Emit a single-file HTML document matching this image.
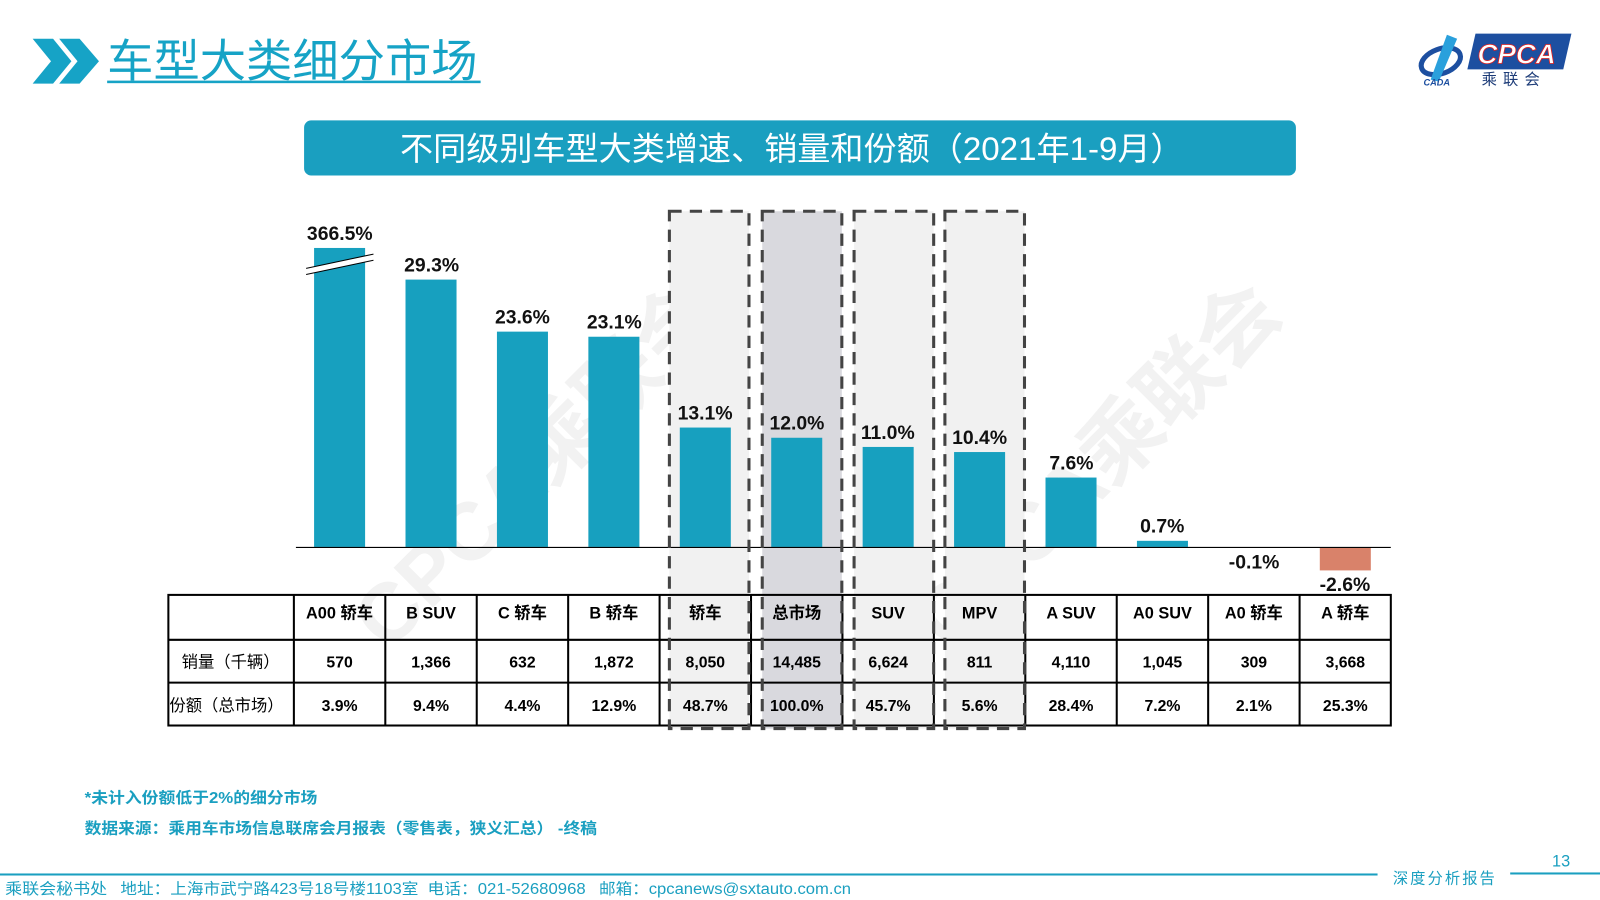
<!DOCTYPE html>
<html><head><meta charset="utf-8"><style>
html,body{margin:0;padding:0;background:#fff;overflow:hidden}
svg{display:block}
text{font-family:"Liberation Sans","Noto Sans CJK SC",sans-serif}
</style></head><body>
<svg width="1600" height="900" viewBox="0 0 1568 882" preserveAspectRatio="none" xmlns="http://www.w3.org/2000/svg">
<!-- watermarks -->
<g fill="#f2f2f2" font-size="80" font-weight="bold">
<text transform="translate(380,640) rotate(-45)">CPCA乘联会</text>
<text transform="translate(930,640) rotate(-45)">CPCA乘联会</text>
</g>
<!-- header -->
<polygon points="32,38 52,38 70,60 52,82 32,82 50,60" fill="#16a3c6"/>
<polygon points="58,38 78,38 97,60 78,82 58,82 76,60" fill="#16a3c6"/>
<text x="105" y="75" font-size="44" fill="#16a3c6" textLength="363" lengthAdjust="spacingAndGlyphs">车型大类细分市场</text>
<rect x="105" y="79" width="366" height="2.5" fill="#16a3c6"/>
<!-- logo -->
<ellipse cx="1412" cy="60" rx="20" ry="12" fill="none" stroke="#1d4fa0" stroke-width="5" transform="rotate(-20 1412 60)"/>
<path d="M1418 34 L1428 38 L1410 80 L1402 78 Z" fill="#2aa0dc"/>
<text x="1395" y="84" font-size="9" font-style="italic" font-weight="bold" fill="#1d4fa0">CADA</text>
<polygon points="1446,33 1540,33 1532,68 1438,68" fill="#1d4fa0"/>
<text x="1448" y="62" font-size="27" font-style="italic" font-weight="bold" fill="#fff" stroke="#d22" stroke-width="0.8">CPCA</text>
<text x="1452" y="83" font-size="15" fill="#1d3c78" letter-spacing="6">乘联会</text>
<!-- banner -->
<rect x="298" y="118" width="972" height="54" rx="7" fill="#1a9fc0"/>
<text x="392" y="157" font-size="32" fill="#fff" textLength="768" lengthAdjust="spacingAndGlyphs">不同级别车型大类增速、销量和份额（2021年1-9月）</text>
<!-- highlighted boxes -->
<rect x="656" y="207" width="78" height="507" fill="#f1f1f1"/>
<rect x="747" y="207" width="78" height="507" fill="#d9d9de"/>
<rect x="837" y="207" width="78" height="507" fill="#f1f1f1"/>
<rect x="926" y="207" width="78" height="507" fill="#f1f1f1"/>
<!-- bars -->
<g fill="#17a0bf">
<rect x="307.8" y="243" width="50" height="293"/>
<rect x="397.4" y="274" width="50" height="262"/>
<rect x="487" y="325" width="50" height="211"/>
<rect x="576.6" y="330" width="50" height="206"/>
<rect x="666.2" y="419" width="50" height="117"/>
<rect x="755.8" y="429" width="50" height="107"/>
<rect x="845.4" y="438" width="50" height="98"/>
<rect x="935" y="443" width="50" height="93"/>
<rect x="1024.6" y="468" width="50" height="68"/>
<rect x="1114.2" y="530" width="50" height="6"/>
</g>
<rect x="1293.4" y="537" width="50" height="22" fill="#d9826a"/>
<!-- break mark -->
<polygon points="300,263 366,249 366,255 300,269" fill="#fff"/>
<line x1="300" y1="263" x2="366" y2="249" stroke="#000" stroke-width="1"/>
<line x1="300" y1="269" x2="366" y2="255" stroke="#000" stroke-width="1"/>
<!-- axis -->
<line x1="290" y1="536.5" x2="1363" y2="536.5" stroke="#000" stroke-width="1.2"/>
<!-- bar labels -->
<g font-size="19" font-weight="bold" fill="#111" text-anchor="middle" font-family="'DejaVu Sans','Liberation Sans',sans-serif">
<text x="333" y="235">366.5%</text>
<text x="423" y="266">29.3%</text>
<text x="512" y="317">23.6%</text>
<text x="602" y="322">23.1%</text>
<text x="691" y="411">13.1%</text>
<text x="781" y="421">12.0%</text>
<text x="870" y="430">11.0%</text>
<text x="960" y="435">10.4%</text>
<text x="1050" y="460">7.6%</text>
<text x="1139" y="522">0.7%</text>
<text x="1229" y="557">-0.1%</text>
<text x="1318" y="579">-2.6%</text>
</g>
<!-- table -->
<g stroke="#000" stroke-width="2" fill="none">
<rect x="165" y="583" width="1198" height="128"/>
<line x1="165" y1="627" x2="1363" y2="627"/>
<line x1="165" y1="669" x2="1363" y2="669"/>
<line x1="288" y1="583" x2="288" y2="711"/>
<line x1="377.6" y1="583" x2="377.6" y2="711"/>
<line x1="467.2" y1="583" x2="467.2" y2="711"/>
<line x1="556.8" y1="583" x2="556.8" y2="711"/>
<line x1="646.4" y1="583" x2="646.4" y2="711"/>
<line x1="736" y1="583" x2="736" y2="711"/>
<line x1="825.6" y1="583" x2="825.6" y2="711"/>
<line x1="915.2" y1="583" x2="915.2" y2="711"/>
<line x1="1004.8" y1="583" x2="1004.8" y2="711"/>
<line x1="1094.4" y1="583" x2="1094.4" y2="711"/>
<line x1="1184" y1="583" x2="1184" y2="711"/>
<line x1="1273.6" y1="583" x2="1273.6" y2="711"/>
</g>
<!-- dashed outlines -->
<g stroke="#444" stroke-width="3" fill="none" stroke-dasharray="12,8">
<rect x="656" y="207" width="78" height="507"/>
<rect x="747" y="207" width="78" height="507"/>
<rect x="837" y="207" width="78" height="507"/>
<rect x="926" y="207" width="78" height="507"/>
</g>
<g font-size="16" font-weight="bold" fill="#000" text-anchor="middle">
<text x="332.8" y="606">A00 轿车</text><text x="422.4" y="606">B SUV</text><text x="512" y="606">C 轿车</text><text x="601.6" y="606">B 轿车</text><text x="691.2" y="606">轿车</text><text x="780.8" y="606">总市场</text><text x="870.4" y="606">SUV</text><text x="960" y="606">MPV</text><text x="1049.6" y="606">A SUV</text><text x="1139.2" y="606">A0 SUV</text><text x="1228.8" y="606">A0 轿车</text><text x="1318.4" y="606">A 轿车</text>
</g>
<g font-size="15.5" font-weight="bold" fill="#000" text-anchor="middle">
<text x="332.8" y="654">570</text><text x="422.4" y="654">1,366</text><text x="512" y="654">632</text><text x="601.6" y="654">1,872</text><text x="691.2" y="654">8,050</text><text x="780.8" y="654">14,485</text><text x="870.4" y="654">6,624</text><text x="960" y="654">811</text><text x="1049.6" y="654">4,110</text><text x="1139.2" y="654">1,045</text><text x="1228.8" y="654">309</text><text x="1318.4" y="654">3,668</text>
<text x="332.8" y="697">3.9%</text><text x="422.4" y="697">9.4%</text><text x="512" y="697">4.4%</text><text x="601.6" y="697">12.9%</text><text x="691.2" y="697">48.7%</text><text x="780.8" y="697">100.0%</text><text x="870.4" y="697">45.7%</text><text x="960" y="697">5.6%</text><text x="1049.6" y="697">28.4%</text><text x="1139.2" y="697">7.2%</text><text x="1228.8" y="697">2.1%</text><text x="1318.4" y="697">25.3%</text>
</g>
<g font-size="16" fill="#000" text-anchor="middle">
<text x="226" y="654">销量（千辆）</text>
<text x="222" y="697">份额（总市场）</text>
</g>
<!-- footnotes -->
<g font-size="15" font-weight="bold" fill="#1a9fc0">
<text x="83" y="787" textLength="228" lengthAdjust="spacingAndGlyphs">*未计入份额低于2%的细分市场</text>
<text x="83" y="817" textLength="502" lengthAdjust="spacingAndGlyphs">数据来源：乘用车市场信息联席会月报表（零售表，狭义汇总） -终稿</text>
</g>
<!-- footer -->
<rect x="0" y="856" width="1350" height="2" fill="#1a9fc0"/>
<rect x="1480" y="855" width="88" height="2" fill="#1a9fc0"/>
<text x="1365" y="866" font-size="15" fill="#1a9fc0" font-family="'Noto Serif CJK SC',serif" letter-spacing="2">深度分析报告</text>
<text x="1521" y="849" font-size="16" fill="#1a9fc0">13</text>
<g font-size="15" fill="#1a9fc0">
<text x="5" y="876" textLength="100" lengthAdjust="spacingAndGlyphs">乘联会秘书处</text>
<text x="118" y="876" textLength="292" lengthAdjust="spacingAndGlyphs">地址：上海市武宁路423号18号楼1103室</text>
<text x="419" y="876" textLength="155" lengthAdjust="spacingAndGlyphs">电话：021-52680968</text>
<text x="587" y="876" textLength="247" lengthAdjust="spacingAndGlyphs">邮箱：cpcanews@sxtauto.com.cn</text>
</g>
</svg>
</body></html>
